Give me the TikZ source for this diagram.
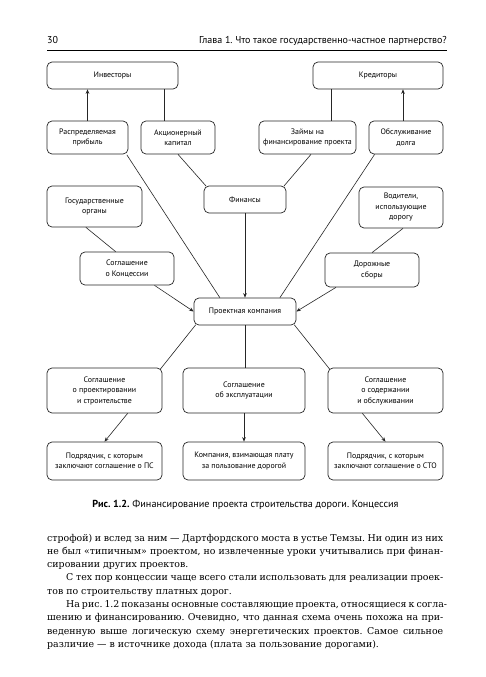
\documentclass[tikz,border=0pt]{standalone}
\usepackage{fontspec}
\setmainfont{DejaVu Serif}
\newfontfamily\boxfont{PT Sans}
\usetikzlibrary{calc,arrows.meta}
\frenchspacing
\begin{document}
\begin{tikzpicture}[x=1pt,y=-1pt,
  box/.style={draw=black!85, line width=0.7pt, rounded corners=5pt, align=center,
    font=\boxfont\fontsize{7.9}{10.5}\selectfont, inner sep=1pt},
  ln/.style={draw=black!85, line width=0.6pt},
  arr/.style={ln, -{Stealth[length=4.5pt,width=3.6pt]}},
  bodyline/.style={anchor=base west, inner sep=0pt, font=\fontsize{9.4}{13}\selectfont},
  hdr/.style={inner sep=0pt, font=\boxfont\fontsize{10}{12}\selectfont}]
\useasboundingbox[fill=white] (0,0) rectangle (485,677);

% header
\node[hdr, anchor=base west] (pg) at (47,44) {30};
\node[hdr, anchor=base east] (ttl) at (447,44) {Глава 1. Что такое государственно-частное партнерство?};
\coordinate (r1) at (47,50);
\coordinate (r2) at (447,50);
\draw[line width=0.8pt] (r1) -- (r2);

% boxes
\node[box, minimum width=131, minimum height=27] (inv) at (112.5,75.5) {Инвесторы};
\node[box, minimum width=130, minimum height=27] (kred) at (378,75.5) {Кредиторы};
\node[box, minimum width=81, minimum height=33] (rasp) at (87.5,137.5) {Распределяемая\\прибыль};
\node[box, minimum width=74, minimum height=33] (akc) at (178,137.5) {Акционерный\\капитал};
\node[box, minimum width=97, minimum height=33] (zaim) at (307.5,137.5) {Займы на\\финансирование проекта};
\node[box, minimum width=74, minimum height=33] (obsl) at (406,137.5) {Обслуживание\\долга};
\node[box, minimum width=95, minimum height=41] (gos) at (94.5,206.5) {Государственные\\органы};
\node[box, minimum width=82, minimum height=27] (fin) at (245,199.5) {Финансы};
\node[box, minimum width=84, minimum height=41] (vod) at (401,207.5) {Водители,\\использующие\\дорогу};
\node[box, minimum width=94, minimum height=33] (konc) at (127,268.5) {Соглашение\\о Концессии};
\node[box, minimum width=94, minimum height=34] (dor) at (372,270) {Дорожные\\сборы};
\node[box, minimum width=102, minimum height=27] (pk) at (245,311.5) {Проектная компания};
\node[box, minimum width=115, minimum height=45] (sp) at (104.5,390.5) {Соглашение\\о проектировании\\и строительстве};
\node[box, minimum width=122, minimum height=45] (se) at (244,390.5) {Соглашение\\об эксплуатации};
\node[box, minimum width=115, minimum height=45] (ss) at (385.5,390.5) {Соглашение\\о содержании\\и обслуживании};
\node[box, minimum width=115, minimum height=38] (pps) at (104.5,461) {Подрядчик, с которым\\заключают соглашение о ПС};
\node[box, minimum width=122, minimum height=38] (komp) at (244,461) {Компания, взимающая плату\\за пользование дорогой};
\node[box, minimum width=115, minimum height=38] (psto) at (385.5,461) {Подрядчик, с которым\\заключают соглашение о СТО};

% connectors top
\draw[arr] (rasp.north) -- (rasp.north |- inv.south);
\draw[ln] ($(akc.north west)!0.32!(akc.north east)$) coordinate (a1) -- (a1 |- inv.south);
\draw[ln] ($(zaim.north west)!0.74!(zaim.north east)$) coordinate (z1) -- (z1 |- kred.south);
\draw[arr] ([xshift=-3pt]obsl.north) -- ([xshift=-3pt]obsl.north |- kred.south);

\draw[ln] ([xshift=-1.5pt,yshift=-0.5pt]rasp.south east) -- ($(pk.north west)!0.255!(pk.north east)$);
\draw[ln] (akc.south) -- ([xshift=2.5pt,yshift=-0.5pt]fin.north west);
\draw[ln] ([xshift=3.5pt]zaim.south) -- ([xshift=-2.5pt,yshift=-0.5pt]fin.north east);
\draw[ln] ($(obsl.south west)!0.08!(obsl.south east)$) -- ($(pk.north west)!0.84!(pk.north east)$);
\draw[arr] (fin.south) -- (fin.south |- pk.north);

\draw[ln] ($(gos.south west)!0.41!(gos.south east)$) -- ($(konc.north west)!0.38!(konc.north east)$);
\draw[arr] ($(konc.south west)!0.79!(konc.south east)$) -- (pk.west);
\draw[ln] ([xshift=2pt]vod.south) -- (dor.north);
\draw[arr] ($(dor.south west)!0.12!(dor.south east)$) -- (pk.east);

% connectors bottom
\draw[ln] ([xshift=2pt,yshift=0.5pt]pk.south west) -- ([xshift=-2pt,yshift=-1.5pt]sp.north east);
\draw[ln] (pk.south) -- (pk.south |- se.north);
\draw[ln] ([xshift=-2pt,yshift=0.5pt]pk.south east) -- ([xshift=2pt,yshift=-1.5pt]ss.north west);
\draw[arr] ($(sp.south west)!0.70!(sp.south east)$) -- (pps.north);
\draw[arr] (se.south) -- (se.south |- komp.north);
\draw[arr] ($(ss.south west)!0.30!(ss.south east)$) -- (psto.north);

% caption
\node[inner sep=0pt, anchor=base, font=\boxfont\fontsize{10.2}{12}\selectfont] (cap) at (245.5,507)
  {\textbf{Рис. 1.2.} Финансирование проекта строительства дороги. Концессия};

% body text
\node[bodyline] (l1) at (47,541) {\makebox[396pt][s]{строфой) и вслед за ним — Дартфордского моста в устье Темзы. Ни один из них}};
\node[bodyline] (l2) at (47,554.3) {\makebox[396pt][s]{не был «типичным» проектом, но извлеченные уроки учитывались при финан-}};
\node[bodyline] (l3) at (47,567.6) {сировании других проектов.};
\node[bodyline] (l4) at (66,580.9) {\makebox[377pt][s]{С тех пор концессии чаще всего стали использовать для реализации проек-}};
\node[bodyline] (l5) at (47,594.2) {тов по строительству платных дорог.};
\node[bodyline] (l6) at (66,607.5) {\makebox[377pt][s]{На рис. 1.2 показаны основные составляющие проекта, относящиеся к согла-}};
\node[bodyline] (l7) at (47,620.8) {\makebox[396pt][s]{шению и финансированию. Очевидно, что данная схема очень похожа на при-}};
\node[bodyline] (l8) at (47,634.1) {\makebox[396pt][s]{веденную выше логическую схему энергетических проектов. Самое сильное}};
\node[bodyline] (l9) at (47,647.4) {различие — в источнике дохода (плата за пользование дорогами).};
\end{tikzpicture}
\end{document}
